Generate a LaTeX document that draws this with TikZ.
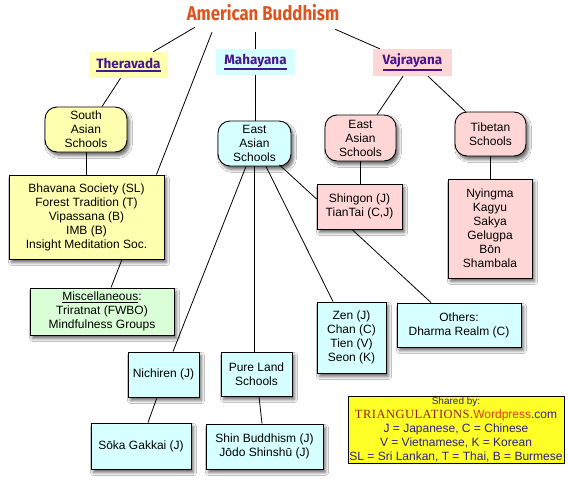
\documentclass[tikz,border=0pt]{standalone}
\usepackage{fontspec}
\setmainfont{Liberation Sans}
\newfontfamily\titlefont{Fira Sans}
\newfontfamily\serifdeco{Liberation Serif}
\usetikzlibrary{shadows.blur,calc}
\definecolor{ttl}{RGB}{222,84,30}
\definecolor{lbl}{RGB}{72,22,140}
\definecolor{ylw}{RGB}{255,255,176}
\definecolor{cyn}{RGB}{214,255,255}
\definecolor{pnk}{RGB}{255,214,214}
\definecolor{grn}{RGB}{218,255,214}
\definecolor{lgd}{RGB}{255,255,40}
\definecolor{lgdtx}{RGB}{45,30,140}
\definecolor{tri}{RGB}{150,30,30}
\definecolor{wp}{RGB}{225,60,20}
\newcommand{\fatul}[1]{\vtop{\hbox{#1}\kern1.2pt\hrule height 1.8pt}}
\begin{document}
\begin{tikzpicture}[x=1pt,y=-1pt,
  every node/.style={inner sep=0pt, align=center, font=\fontsize{12}{14}\selectfont},
  box/.style={draw, line width=0.9pt, blur shadow={shadow xshift=2.5pt, shadow yshift=-3.5pt, shadow blur steps=6, shadow blur radius=3pt, shadow opacity=60}},
  rbox/.style={box, rounded corners=12pt},
  lab/.style={font=\titlefont\bfseries\fontsize{13.5}{15}\selectfont, text=lbl},
  con/.style={line width=0.8pt}]
\fill[white] (0,0) rectangle (568,482);
\useasboundingbox (0,0) rectangle (568,482);

\node[font=\titlefont\bfseries\fontsize{20}{22}\selectfont, text=ttl, minimum height=28pt] (title) at (263,13) {\scalebox{0.84}[1]{American Buddhism}};

\node[lab, fill=ylw, minimum width=79pt, minimum height=26pt] (thera) at (128.5,65) {\fatul{Theravada}};
\node[lab, fill=cyn, minimum width=79pt, minimum height=26pt] (maha) at (255.5,62) {\fatul{Mahayana}};
\node[lab, fill=pnk, minimum width=79pt, minimum height=27pt] (vajra) at (412.5,62.5) {\fatul{Vajrayana}};

\node[rbox, fill=ylw, minimum width=82pt, minimum height=45pt] (south) at (86,129.5) {South\\Asian\\Schools};
\node[box, fill=ylw, minimum width=155pt, minimum height=84pt] (bhav) at (86.5,217) {Bhavana Society (SL)\\Forest Tradition (T)\\Vipassana (B)\\IMB (B)\\Insight Meditation Soc.};
\node[box, fill=grn, minimum width=144pt, minimum height=47pt] (misc) at (102,311.5) {\underline{Miscellaneous}:\\Triratnat (FWBO)\\Mindfulness Groups};

\node[rbox, fill=cyn, minimum width=73pt, minimum height=45pt] (eastM) at (254.5,143.5) {East\\Asian\\Schools};
\node[rbox, fill=pnk, minimum width=71pt, minimum height=46pt] (eastV) at (360.5,138) {East\\Asian\\Schools};
\node[rbox, fill=pnk, minimum width=71pt, minimum height=44pt] (tibet) at (490.5,134) {Tibetan\\Schools};

\node[box, fill=pnk, minimum width=85pt, minimum height=45pt] (shingon) at (359.5,206.5) {Shingon (J)\\TianTai (C,J)};
\node[box, fill=pnk, minimum width=84pt, minimum height=99pt] (nying) at (490,228.5) {Nyingma\\Kagyu\\Sakya\\Gelugpa\\Bōn\\Shambala};
\node[box, fill=cyn, minimum width=69pt, minimum height=71pt] (zen) at (351.5,337.5) {Zen (J)\\Chan (C)\\Tien (V)\\Seon (K)};
\node[box, fill=cyn, minimum width=124pt, minimum height=44pt] (others) at (459,325) {Others:\\Dharma Realm (C)};
\node[box, fill=cyn, minimum width=71pt, minimum height=45pt] (nichiren) at (163.5,374.5) {Nichiren (J)};
\node[box, fill=cyn, minimum width=71pt, minimum height=44pt] (pure) at (256.5,374) {Pure Land\\Schools};
\node[box, fill=cyn, minimum width=100pt, minimum height=46pt] (soka) at (141,446) {Sōka Gakkai (J)};
\node[box, fill=cyn, minimum width=117pt, minimum height=45pt] (shin) at (264.5,446.5) {Shin Buddhism (J)\\Jōdo Shinshū (J)};

\node[draw, line width=0.9pt, fill=lgd, text=lgdtx, minimum width=216pt, minimum height=67pt] (legend) at (456,429.5)
  {{\fontsize{10}{12}\selectfont Shared by:}\\
   {\serifdeco\fontsize{12.5}{14}\selectfont\addfontfeatures{LetterSpace=4}\color{tri}TRIANGULATIONS.}{\color{wp}Wordpress}.com\\
   J = Japanese, C = Chinese\\
   V = Vietnamese, K = Korean\\
   SL = Sri Lankan, T = Thai, B = Burmese};

% connectors
\draw[con] ($(title.south)+(-68,0)$) -- ($(thera.north east)+(-15,0)$);
\draw[con] ($(title.south)+(-51,5)$) -- ($(bhav.north east)+(-8,0)$);
\draw[con] (maha.north) -- ++(0,-17);
\draw[con] ($(title.south)+(72,2)$) -- ($(vajra.north west)+(7,0)$);
\draw[con] ($(thera.south)+(-8,0)$) -- ($(south.north)+(16,0)$);
\draw[con] (south.south) -- (south.south |- bhav.north);
\draw[con] ($(bhav.south)+(35.5,0)$) -- ($(misc.north)+(9,0)$);
\draw[con] (maha.south) -- (maha.south |- eastM.north);
\draw[con] ($(eastM.south)+(-8.5,0)$) -- ($(nichiren.north)+(9.5,0)$);
\draw[con] (eastM.south) -- (eastM.south |- pure.north);
\draw[con] ($(eastM.south)+(11.5,0)$) -- ($(zen.north)+(-18.5,0)$);
\draw[con] ($(eastM.south)+(25,-1.5)$) -- ($(shingon.west)+(0,-7.5)$);
\draw[con] ($(vajra.south)+(-9.5,0)$) -- ($(eastV.north)+(16.5,0)$);
\draw[con] ($(vajra.south)+(15.5,0)$) -- ($(tibet.north)+(-25,0)$);
\draw[con] (eastV.south) -- (eastV.south |- shingon.north);
\draw[con] (tibet.south) -- (tibet.south |- nying.north);
\draw[con] ($(shingon.south)+(-7.5,0)$) -- ($(others.north)+(-28,0)$);
\draw[con] ($(nichiren.south)+(-6.5,0)$) -- ($(soka.north)+(7,0)$);
\draw[con] ($(pure.south)+(2.5,0)$) -- ($(shin.north)+(-2.5,0)$);
\end{tikzpicture}
\end{document}
